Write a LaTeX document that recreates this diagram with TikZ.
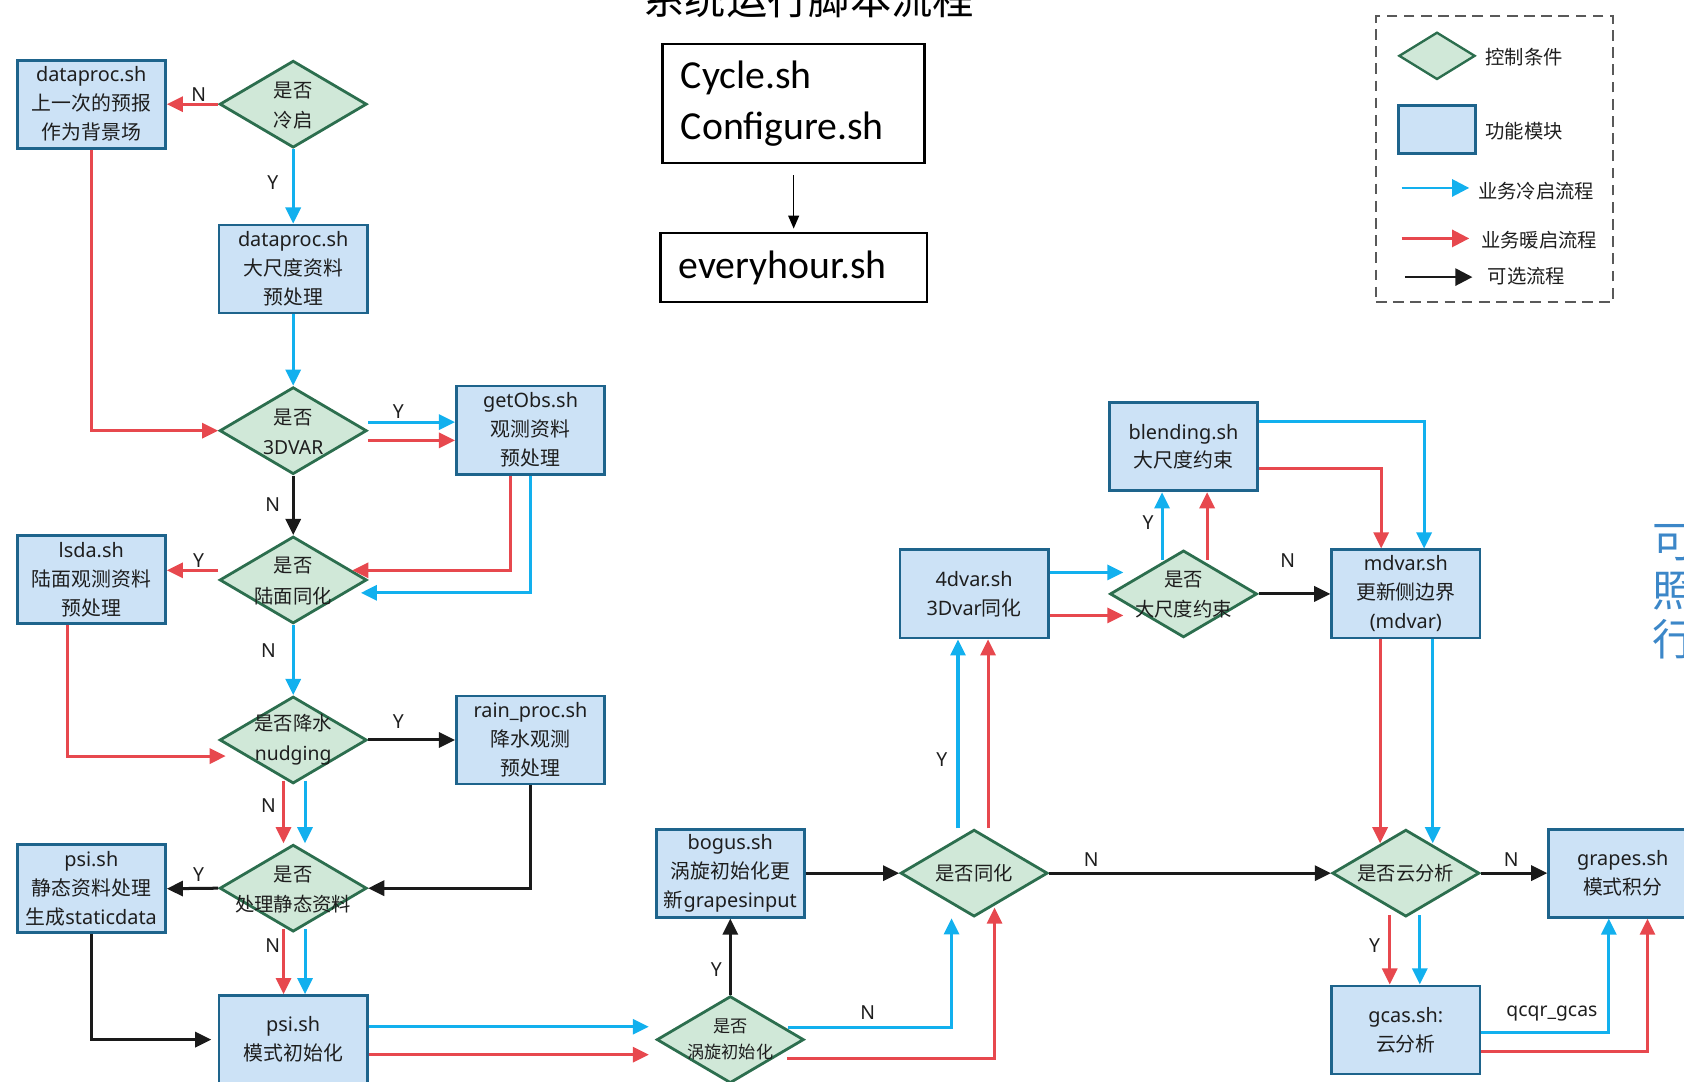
\documentclass[tikz,border=0pt]{standalone}
\usepackage{fontspec}
\setmainfont{Noto Sans}
\newfontfamily\cjkf{Noto Sans CJK SC}
\newfontfamily\calf{Carlito}
\usetikzlibrary{arrows.meta,shapes.geometric,calc}
\newcommand\zh[1]{{\cjkf #1}}
\definecolor{boxfill}{RGB}{204,226,246}
\definecolor{boxline}{RGB}{30,100,140}
\definecolor{diafill}{RGB}{208,232,216}
\definecolor{dialine}{RGB}{44,110,78}
\definecolor{cyanA}{RGB}{18,176,238}
\definecolor{redA}{RGB}{231,72,78}
\definecolor{blackA}{RGB}{26,26,26}
\definecolor{noteblue}{RGB}{60,135,200}
\definecolor{txt}{RGB}{30,30,30}
\begin{document}
\begin{tikzpicture}[x=1pt,y=-1pt,
  box/.style={draw=boxline, fill=boxfill, line width=2.6pt, minimum width=138pt, minimum height=82pt, inner sep=0pt, align=center, text=txt, font=\fontsize{18.5}{27}\selectfont},
  dia/.style={draw=dialine, fill=diafill, line width=2.6pt, diamond, minimum width=137pt, minimum height=81pt, inner sep=0pt},
  dtext/.style={align=center, inner sep=0pt, text=txt, font=\fontsize{18}{28}\selectfont},
  lab/.style={inner sep=0pt, text=txt, font=\fontsize{18}{20}\selectfont},
  legtext/.style={anchor=west, inner sep=0pt, text=txt, font=\cjkf\fontsize{18}{20}\selectfont},
  flow/.style={line width=2.8pt, -{Triangle[length=15pt,width=14pt]}},
  bl/.style={flow, draw=cyanA},
  rd/.style={flow, draw=redA},
  bk/.style={flow, draw=blackA},
]
\useasboundingbox (0,0) rectangle (1568,1007);

% ---------- title and script boxes ----------
\node[font=\cjkf\fontsize{38.5}{40}\selectfont, inner sep=0pt] (title) at (753,-1) {系统运行脚本流程};
\node[draw=black, line width=2.3pt, text width=210pt, inner xsep=17pt, inner ysep=0pt, minimum height=111pt, align=left, font=\calf\fontsize{37}{47}\selectfont] (cyc) at (739,96.5) {Cycle.sh\\Configure.sh};
\node[draw=black, line width=2.3pt, text width=214pt, inner xsep=17pt, inner ysep=0pt, minimum height=64pt, align=left, font=\calf\fontsize{37}{47}\selectfont] (every) at (739,249) {everyhour.sh};
\draw[-{Triangle[length=12pt,width=10pt]}, line width=1.4pt, shorten <=10pt, shorten >=3pt] (cyc.south) -- (every.north);

% ---------- legend ----------
\node[draw=black!65, line width=1.5pt, dash pattern=on 10pt off 6pt, minimum width=221pt, minimum height=266pt, inner sep=0pt] (legend) at (1391.5,148) {};
\node[draw=dialine, fill=diafill, line width=2.2pt, diamond, minimum width=71pt, minimum height=44pt, inner sep=0pt] (legdia) at (1338,52) {};
\node[legtext] (legdiaT) at (1383,53) {控制条件};
\node[draw=boxline, fill=boxfill, line width=3pt, minimum width=72pt, minimum height=45pt, inner sep=0pt] (legbox) at (1338,120.5) {};
\node[legtext] (legboxT) at (1383,122) {功能模块};
\coordinate (lb1) at (1305,175); \coordinate (lb2) at (1368,175);
\draw[bl, line width=2.4pt, -{Triangle[length=16pt,width=16pt]}] (lb1) -- (lb2);
\node[legtext] (lbT) at (1376,178) {业务冷启流程};
\coordinate (lr1) at (1305,222); \coordinate (lr2) at (1368,222);
\draw[rd, line width=2.4pt, -{Triangle[length=16pt,width=16pt]}] (lr1) -- (lr2);
\node[legtext] (lrT) at (1379,224) {业务暖启流程};
\coordinate (lk1) at (1308,258); \coordinate (lk2) at (1371,258);
\draw[bk, line width=2.4pt, -{Triangle[length=16pt,width=16pt]}] (lk1) -- (lk2);
\node[legtext] (lkT) at (1385,257) {可选流程};

% ---------- side note ----------
\node[anchor=west, inner sep=0pt, align=left, text=noteblue, font=\cjkf\fontsize{40}{46}\selectfont] (note) at (1538,551) {可\\照\\行};

% ---------- boxes ----------
\node[box] (dp1) at (85,97) {dataproc.sh\\\zh{上一次的预报}\\\zh{作为背景场}};
\node[box] (dp2) at (273,250.5) {dataproc.sh\\\zh{大尺度资料}\\\zh{预处理}};
\node[box] (getobs) at (494,400.5) {getObs.sh\\\zh{观测资料}\\\zh{预处理}};
\node[box] (lsda) at (85,539.5) {lsda.sh\\\zh{陆面观测资料}\\\zh{预处理}};
\node[box] (rain) at (494,689) {rain\_proc.sh\\\zh{降水观测}\\\zh{预处理}};
\node[box] (psi1) at (85,827.5) {psi.sh\\\zh{静态资料处理}\\\zh{生成}staticdata};
\node[box] (psi2) at (273,968) {psi.sh\\\zh{模式初始化}};
\node[box] (bogus) at (680,813) {bogus.sh\\\zh{涡旋初始化更}\\\zh{新}grapesinput};
\node[box] (fourdvar) at (907,553) {4dvar.sh\\3Dvar\zh{同化}};
\node[box] (blend) at (1102,416) {blending.sh\\\zh{大尺度约束}};
\node[box] (mdvar) at (1309,553) {mdvar.sh\\\zh{更新侧边界}\\(mdvar)};
\node[box] (grapes) at (1511,813) {grapes.sh\\\zh{模式积分}};
\node[box] (gcas) at (1309,959) {gcas.sh:\\\zh{云分析}};

% ---------- diamonds ----------
\node[dia] (cold) at (273,97) {};
\node[dtext] (coldT) at (273,98) {\zh{是否}\\\zh{冷启}};
\node[dia] (d3dvar) at (273,401) {};
\node[dtext] (d3dvarT) at (273,402) {\zh{是否}\\3DVAR};
\node[dia] (land) at (273,540) {};
\node[dtext] (landT) at (273,541) {\zh{是否}\\\zh{陆面同化}};
\node[dia] (nudge) at (273,689) {};
\node[dtext] (nudgeT) at (273,689) {\zh{是否降水}\\nudging};
\node[dia] (static) at (273,827) {};
\node[dtext] (staticT) at (273,828) {\zh{是否}\\\zh{处理静态资料}};
\node[dia] (vortex) at (680,968) {};
\node[dtext, font=\fontsize{16}{24}\selectfont] (vortexT) at (680,968) {\zh{是否}\\\zh{涡旋初始化}};
\node[dia] (assim) at (907,813) {};
\node[dtext] (assimT) at (907,813) {\zh{是否同化}};
\node[dia] (large) at (1102,553) {};
\node[dtext] (largeT) at (1102,554) {\zh{是否}\\\zh{大尺度约束}};
\node[dia] (cloud) at (1309,813) {};
\node[dtext] (cloudT) at (1309,813) {\zh{是否云分析}};

% ---------- connectors ----------
\draw[rd] (cold.west) -- (dp1.east);
\draw[bl] (cold.south) -- (dp2.north);
\draw[bl] (dp2.south) -- (d3dvar.north);
\draw[rd] (dp1.south) |- (d3dvar.west);
\draw[bl] ([yshift=8pt]d3dvar.east) -- ([yshift=7.5pt]getobs.west);
\draw[rd] ([yshift=-9pt]d3dvar.east) -- ([yshift=-9.5pt]getobs.west);
\draw[bk] (d3dvar.south) -- (land.north);
\draw[rd] ([xshift=-19pt]getobs.south) |- ([xshift=55pt,yshift=9pt]land.center);
\draw[bl] (getobs.south) |- ([xshift=63pt,yshift=-12pt]land.center);
\draw[rd] ([yshift=9pt]land.west) -- ([yshift=8.5pt]lsda.east);
\draw[bl] (land.south) -- (nudge.north);
\draw[rd] ([xshift=-22pt]lsda.south) |- ([xshift=7pt,yshift=-15pt]nudge.west);
\draw[bk] (nudge.east) -- (rain.west);
\draw[rd] ([xshift=-9pt,yshift=4pt]nudge.south) -- ([xshift=-9pt]static.north);
\draw[bl] ([xshift=11pt,yshift=4pt]nudge.south) -- ([xshift=11pt]static.north);
\draw[bk] (rain.south) |- (static.east);
\draw[bk] (static.west) -- (psi1.east);
\draw[rd] ([xshift=-9pt,yshift=4pt]static.south) -- ([xshift=-9pt]psi2.north);
\draw[bl] ([xshift=11pt,yshift=4pt]static.south) -- ([xshift=11pt]psi2.north);
\draw[bk] (psi1.south) |- ([xshift=-6pt]psi2.west);
\draw[bl] ([yshift=12pt]psi2.east) -- ([xshift=-6pt,yshift=12pt]vortex.west);
\draw[rd] ([yshift=-14pt]psi2.east) -- ([xshift=-6pt,yshift=-14pt]vortex.west);
\draw[bk] (vortex.north) -- (bogus.south);
\draw[bl] ([xshift=54pt,yshift=11pt]vortex.center) -| ([xshift=-21pt,yshift=-42pt]assim.center);
\draw[rd] ([xshift=53pt,yshift=-18pt]vortex.center) -| ([xshift=19pt,yshift=-32pt]assim.center);
\draw[bk] (bogus.east) -- (assim.west);
\draw[bl] ([xshift=-15pt]assim.north) -- ([xshift=-15pt]fourdvar.south);
\draw[rd] ([xshift=13pt]assim.north) -- ([xshift=13pt]fourdvar.south);
\draw[bl] ([yshift=20pt]fourdvar.east) -- ([xshift=-56pt,yshift=20pt]large.center);
\draw[rd] ([yshift=-20pt]fourdvar.east) -- ([xshift=-56pt,yshift=-20pt]large.center);
\draw[bl] ([xshift=-20pt,yshift=32pt]large.center) -- ([xshift=-20pt]blend.south);
\draw[rd] ([xshift=22pt,yshift=32pt]large.center) -- ([xshift=22pt]blend.south);
\draw[bk] (large.east) -- (mdvar.west);
\draw[bl] ([yshift=24pt]blend.east) -| ([xshift=17pt]mdvar.north);
\draw[rd] ([yshift=-20pt]blend.east) -| ([xshift=-23pt]mdvar.north);
\draw[rd] ([xshift=-24pt]mdvar.south) -- ([xshift=-24pt,yshift=-14pt]cloud.north);
\draw[bl] ([xshift=25pt]mdvar.south) -- ([xshift=25pt,yshift=-14pt]cloud.north);
\draw[bk] (assim.east) -- (cloud.west);
\draw[bk] (cloud.east) -- (grapes.west);
\draw[rd] ([xshift=-15pt,yshift=-39pt]cloud.center) -- ([xshift=-15pt]gcas.north);
\draw[bl] ([xshift=13pt,yshift=-39pt]cloud.center) -- ([xshift=13pt]gcas.north);
\draw[bl] ([yshift=-2pt]gcas.east) -| ([xshift=-13pt]grapes.south);
\draw[rd] ([yshift=-20pt]gcas.east) -| ([xshift=23pt]grapes.south);

% ---------- labels ----------
\node[lab] (l1) at (185,88) {N};
\node[lab] (l2) at (254,170) {Y};
\node[lab] (l3) at (371,383) {Y};
\node[lab] (l4) at (254,470) {N};
\node[lab] (l5) at (185,522) {Y};
\node[lab] (l6) at (250,606) {N};
\node[lab] (l7) at (371,672) {Y};
\node[lab] (l8) at (250,750) {N};
\node[lab] (l9) at (185,814) {Y};
\node[lab] (l10) at (254,880) {N};
\node[lab] (l11) at (667,903) {Y};
\node[lab] (l12) at (808,943) {N};
\node[lab] (l13) at (877,707) {Y};
\node[lab] (l14) at (1069,487) {Y};
\node[lab] (l15) at (1199,522) {N};
\node[lab] (l16) at (1016,800) {N};
\node[lab] (l17) at (1407,800) {N};
\node[lab] (l18) at (1280,880) {Y};
\node[lab] (l19) at (1445,944) {qcqr\_gcas};
\end{tikzpicture}
\end{document}
